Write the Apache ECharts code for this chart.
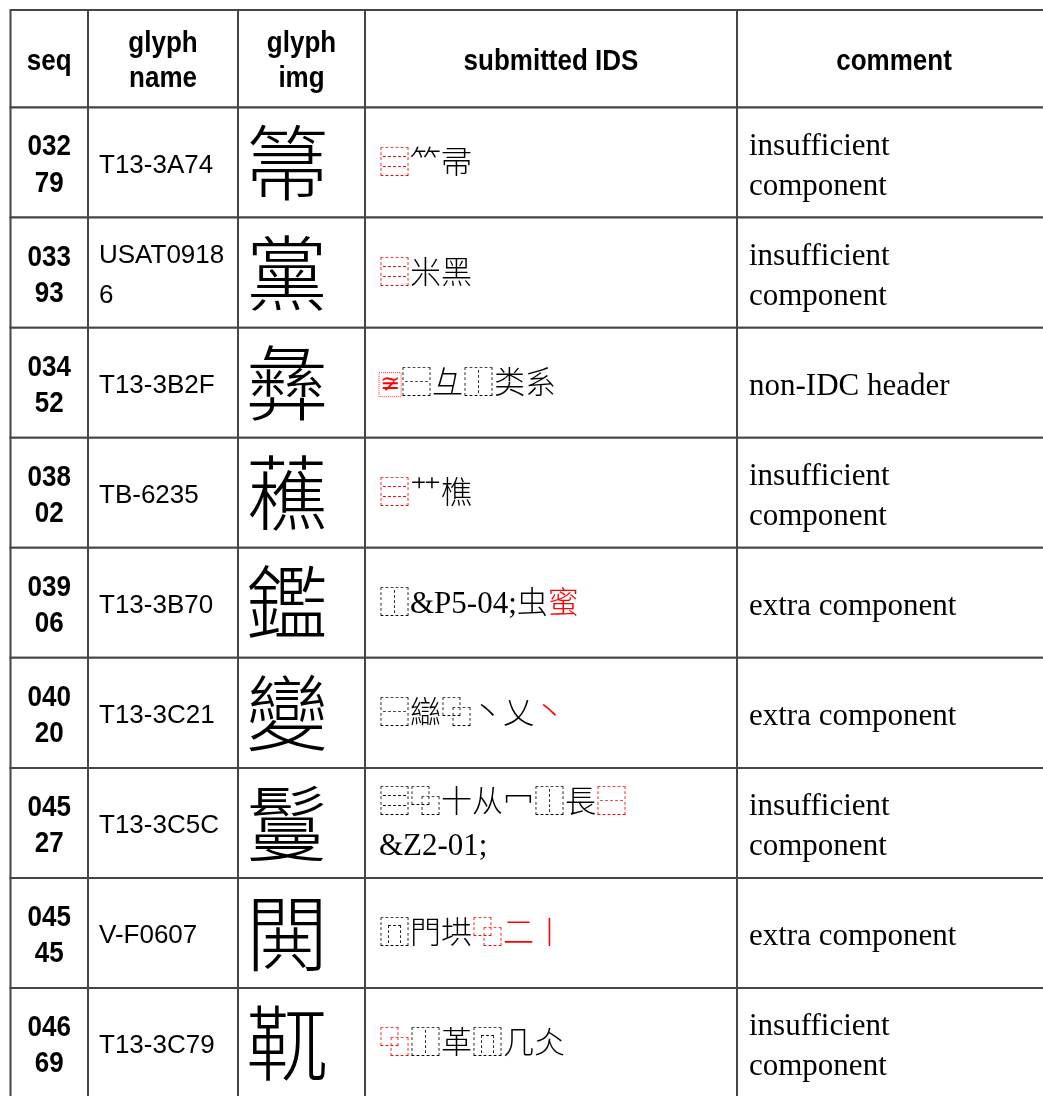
<!DOCTYPE html>
<html><head><meta charset="utf-8">
<script src="https://cdn.jsdelivr.net/npm/echarts@6/dist/echarts.min.js"></script>
<style>html,body{margin:0;padding:0;background:#fff}#c{width:1043px;height:1096px}</style>
</head><body><div id="c"></div>
<script>
// ---- data ----
const headers = ['seq', 'glyph\nname', 'glyph\nimg', 'submitted IDS', 'comment'];
const seqs = ['03279', '03393', '03452', '03802', '03906', '04020', '04527', '04545', '04669'];
const glyphNames = ['T13-3A74', 'USAT09186', 'T13-3B2F', 'TB-6235', 'T13-3B70', 'T13-3C21', 'T13-3C5C', 'V-F0607', 'T13-3C79'];
const glyphImgs = ['箒', '黨', '彝', '藮', '鑑', '變', '鬘', '閧', '靰'];
// {r|...} marks the parts shown in red, {rb|...} a red boxed non-IDC header
const submittedIDS = [
  '{r|⿳}⺮帚',
  '{r|⿳}米黑',
  '{rb|≆}⿱彑⿰类系',
  '{r|⿳}艹樵',
  '⿰&P5-04;虫{r|蜜}',
  '⿱䜌⿻丶乂{r|丶}',
  '⿳⿻十从冖⿰長{r|⿱}\n&Z2-01;',
  '⿵門垬{r|⿻二丨}',
  '{r|⿻}⿰革⿵几仌'
];
const comments = [
  'insufficient component', 'insufficient component', 'non-IDC header',
  'insufficient component', 'extra component', 'extra component',
  'insufficient component', 'extra component', 'insufficient component'
];

// ---- layout ----
const COL_EDGES = [0.5, 78, 228, 355, 727, 1041];
const HEADER_H = 0.886;
const LINE = '#454545';
const SANS = "'Liberation Sans', Arial, sans-serif";
const SERIF = "'Liberation Serif', 'Noto Sans CJK TC', 'DejaVu Sans', serif";
const CJK = "'Noto Sans CJK TC', 'Noto Sans CJK SC', sans-serif";

const rows = [-1].concat(seqs.map((_, i) => i));

function renderItem(params, api) {
  const r = api.value(1);
  const y0 = r < 0 ? -HEADER_H : r;
  const y1 = r < 0 ? 0 : r + 1;
  const children = [];
  const cells = [];
  for (let c = 0; c < 5; c++) {
    const p0 = api.coord([COL_EDGES[c], y0]);
    const p1 = api.coord([COL_EDGES[c + 1], y1]);
    const cell = { x0: p0[0], y0: Math.min(p0[1], p1[1]), x1: p1[0], y1: Math.max(p0[1], p1[1]) };
    cells.push(cell);
    children.push({
      type: 'rect',
      shape: { x: cell.x0, y: cell.y0, width: cell.x1 - cell.x0, height: cell.y1 - cell.y0 },
      style: { fill: '#fff', stroke: LINE, lineWidth: 2 }
    });
  }
  const cy = c => (cells[c].y0 + cells[c].y1) / 2;
  const cx = c => (cells[c].x0 + cells[c].x1) / 2;
  if (r < 0) {
    headers.forEach((h, c) => {
      children.push({
        type: 'text', x: cx(c), y: cy(c) + 3, scaleY: 1.12,
        style: { text: h, fill: '#000', fontFamily: SANS, fontWeight: 'bold', fontSize: 26,
          lineHeight: 31, align: 'center', verticalAlign: 'middle' }
      });
    });
  } else {
    children.push({
      type: 'text', x: cx(0), y: cy(0) + 3, scaleY: 1.14,
      style: { text: seqs[r], fill: '#000', fontFamily: SANS, fontWeight: 'bold', fontSize: 26,
        lineHeight: 32, width: 50, overflow: 'breakAll', align: 'center', verticalAlign: 'middle' }
    });
    children.push({
      type: 'text', x: cells[1].x0 + 11, y: cy(1) + 3,
      style: { text: glyphNames[r], fill: '#000', fontFamily: SANS, fontSize: 26,
        lineHeight: 40, width: 130, overflow: 'breakAll', align: 'left', verticalAlign: 'middle' }
    });
    children.push({
      type: 'text', x: cells[2].x0 + 8, y: cy(2),
      style: { text: glyphImgs[r], fill: '#000', fontFamily: CJK, fontWeight: 300, fontSize: 82,
        align: 'left', verticalAlign: 'middle' }
    });
    children.push({
      type: 'text', x: cells[3].x0 + 14, y: cy(3) + 2,
      style: {
        text: submittedIDS[r], fill: '#000', fontFamily: SERIF, fontWeight: 300, fontSize: 31,
        lineHeight: 43, align: 'left', verticalAlign: 'middle',
        rich: {
          r: { fill: '#ff0000' },
          rb: { fill: '#ff0000', fontFamily: "'DejaVu Sans', sans-serif", fontSize: 24, lineHeight: 25,
            borderColor: '#ff3030', borderWidth: 1, borderDash: [1, 1], padding: [0, 1] }
        }
      }
    });
    children.push({
      type: 'text', x: cells[4].x0 + 12, y: cy(4) + 4,
      style: { text: comments[r], fill: '#000', fontFamily: "'Liberation Serif', serif", fontSize: 31,
        lineHeight: 40, width: 280, overflow: 'break', align: 'left', verticalAlign: 'middle' }
    });
  }
  return { type: 'group', children };
}

const chart = echarts.init(document.getElementById('c'), null, { renderer: 'canvas' });
chart.setOption({
  animation: false,
  backgroundColor: '#fff',
  grid: { left: 10, top: 10, right: 0, bottom: 0 },
  xAxis: { type: 'value', min: 0, max: 1033, show: false },
  yAxis: { type: 'value', min: -HEADER_H, max: 8.981, inverse: true, show: false },
  series: [{
    type: 'custom',
    renderItem,
    clip: false,
    data: rows.map(r => [0, r])
  }]
});
</script></body></html>
